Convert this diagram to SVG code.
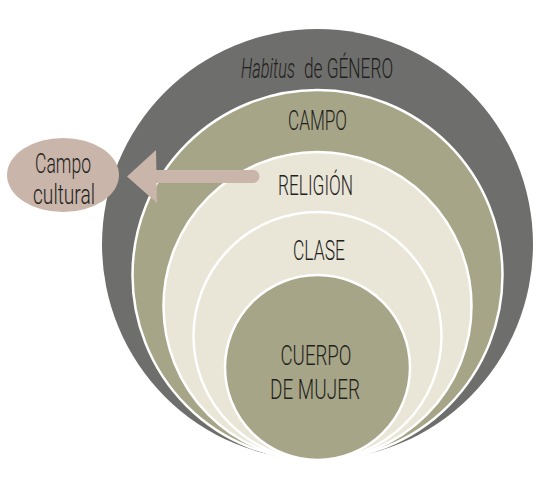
<svg xmlns="http://www.w3.org/2000/svg" width="556" height="484" viewBox="0 0 556 484">
<style>
.lbl{font-family:Roboto,"DejaVu Sans Condensed","Liberation Sans",sans-serif;font-weight:300;fill:#1f1f1d;font-size:27px;text-anchor:middle}
.st{text-anchor:start}
.ring{stroke:#ffffff;stroke-width:2.5}
</style>
<rect width="556" height="484" fill="#ffffff"/>
<g id="habitus">
<circle cx="317.5" cy="244.5" r="215.5" fill="#6e6e6c"/>
<text transform="translate(241,78) scale(0.65,1)" x="0" y="0" class="lbl st" font-size="25" font-style="italic" textLength="83" lengthAdjust="spacingAndGlyphs">Habitus</text>
<text transform="translate(304,78) scale(0.68,1)" x="0" y="0" class="lbl st" font-size="25" textLength="131" lengthAdjust="spacingAndGlyphs">de GÉNERO</text>
</g>
<g id="campo">
<circle cx="317.5" cy="275" r="185" fill="#a7a588" class="ring"/>
<text x="317.5" y="130" class="lbl" textLength="59" lengthAdjust="spacingAndGlyphs">CAMPO</text>
</g>
<g id="religion">
<circle cx="317.5" cy="306" r="154" fill="#e9e5d7" class="ring"/>
<text x="315.5" y="195" class="lbl" textLength="75" lengthAdjust="spacingAndGlyphs">RELIGIÓN</text>
</g>
<g id="clase">
<circle cx="317.5" cy="336" r="124" fill="#e9e5d7" class="ring"/>
<text x="319" y="260" class="lbl" textLength="52" lengthAdjust="spacingAndGlyphs">CLASE</text>
</g>
<g id="cuerpo">
<circle cx="317.5" cy="367.5" r="92.5" fill="#a7a588" class="ring"/>
<text x="316" y="365" class="lbl" textLength="71" lengthAdjust="spacingAndGlyphs">CUERPO</text>
<text x="315" y="399" class="lbl" textLength="90" lengthAdjust="spacingAndGlyphs">DE MUJER</text>
</g>
<g id="campo-cultural">
<ellipse cx="63" cy="175" rx="56" ry="37" fill="#c9b5a9"/>
<text x="63" y="173" class="lbl" textLength="56" lengthAdjust="spacingAndGlyphs">Campo</text>
<text x="64" y="204" class="lbl" textLength="62" lengthAdjust="spacingAndGlyphs">cultural</text>
</g>
<g id="connectors">
<line x1="253" y1="176.5" x2="150" y2="176.5" stroke="#c9b5a9" stroke-width="13" stroke-linecap="round"/>
<polygon points="127,176.5 156,150 157,203" fill="#c9b5a9"/>
</g>
</svg>
